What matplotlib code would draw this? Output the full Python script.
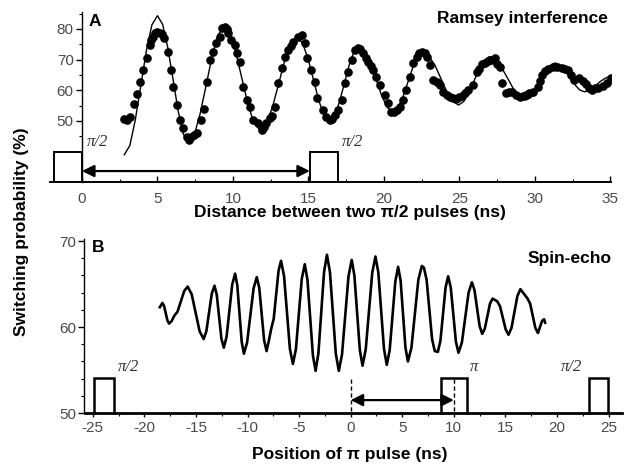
import matplotlib
matplotlib.use("Agg")
import matplotlib.pyplot as plt
from matplotlib.ticker import MultipleLocator, FixedLocator

plt.rcParams["axes.unicode_minus"] = False

# ---------------- Panel A data (Ramsey interference) ----------------
ramsey_t = [2.8, 3.0, 3.2, 3.45, 3.65, 3.85, 4.05, 4.3, 4.5, 4.6, 4.7, 4.85, 5.0, 5.15, 5.3, 5.45,
            5.7, 5.9, 6.05, 6.3, 6.5, 6.7, 6.95, 7.1, 7.25, 7.4, 7.6, 7.9, 8.1, 8.25, 8.5, 8.7,
            8.9, 9.15, 9.3, 9.45, 9.6, 9.7, 9.9, 10.15, 10.3, 10.45, 10.7, 10.9, 11.1, 11.35, 11.65,
            11.9, 12.05, 12.2, 12.45, 12.6, 12.8, 13.0, 13.25, 13.45, 13.65, 13.85, 14.0, 14.3, 14.55,
            14.75, 14.9, 15.2, 15.45, 15.6, 15.95, 16.2, 16.4, 16.55, 16.75, 16.95, 17.2, 17.4, 17.6,
            17.9, 18.1, 18.3, 18.45, 18.6, 18.8, 18.95, 19.15, 19.3, 19.5, 19.75, 20.05, 20.3, 20.5,
            20.7, 20.9, 21.05, 21.3, 21.5, 21.7, 21.95, 22.2, 22.35, 22.5, 22.7, 22.85, 23.05, 23.25,
            23.5, 23.7, 23.9, 24.2, 24.4, 24.6, 24.8, 25.0, 25.2, 25.4, 25.6, 25.9, 26.15, 26.3, 26.5,
            26.7, 26.9, 27.1, 27.35, 27.5, 27.7, 27.8, 28.1, 28.3, 28.5, 28.75, 29.0, 29.2, 29.4,
            29.65, 29.9, 30.2, 30.35, 30.5, 30.7, 30.9, 31.2, 31.5, 31.8, 32.0, 32.2, 32.4, 32.6,
            32.9, 33.2, 33.4, 33.6, 33.8, 34.0, 34.2, 34.5, 34.8, 35.05]
ramsey_p = [50.5, 50.3, 51.3, 55.5, 58.8, 62.7, 66.6, 70.5, 74.7, 76.5, 77.3, 78.6, 78.9, 78.8, 78.2, 77.0,
            72.5, 66.6, 61.0, 55.2, 50.3, 47.7, 44.8, 43.7, 44.8, 45.4, 46.0, 50.3, 54.0, 62.7, 70.0, 72.5,
            75.4, 77.3, 80.3, 80.6, 80.0, 78.6, 76.3, 74.7, 72.0, 69.2, 61.0, 56.8, 54.6, 50.3, 49.3,
            47.0, 48.0, 49.3, 51.0, 51.5, 54.6, 62.4, 67.3, 70.8, 73.0, 74.5, 75.7, 77.3, 78.0,
            75.4, 70.5, 66.6, 62.7, 57.5, 53.6, 51.3, 50.3, 50.8, 52.0, 53.6, 56.8, 62.4, 66.0,
            69.9, 73.0, 73.8, 73.5, 72.0, 70.5, 69.2, 68.0, 66.6, 64.3, 61.7, 58.5, 55.9, 53.0,
            53.0, 53.5, 54.6, 56.8, 60.0, 64.3, 68.9, 70.8, 72.0, 72.5, 72.0, 70.8, 68.2, 63.4,
            62.7, 61.7, 59.4, 58.6, 57.8, 57.5, 57.3, 57.8, 58.3, 59.0, 60.0, 61.7, 66.0, 66.8, 68.5,
            69.0, 69.5, 70.0, 70.5, 68.5, 67.6, 62.5, 59.0, 59.5, 59.4, 58.5, 57.8, 58.2, 58.5,
            59.0, 59.4, 61.0, 63.0, 65.0, 66.3, 66.8, 67.6, 67.6, 67.3, 67.0, 66.6, 65.0, 63.4,
            64.0, 63.0, 62.0, 60.7, 60.0, 60.8, 60.7, 61.5, 62.4, 64.0]

fit_t = [2.8, 3.17, 3.53, 3.9, 4.27, 4.63, 5.0, 5.34, 5.68, 6.03, 6.37, 6.71, 7.05,
         7.44, 7.83, 8.23, 8.62, 9.01, 9.4, 9.8, 10.2, 10.6, 11.0, 11.4, 11.8,
         12.21, 12.62, 13.03, 13.43, 13.84, 14.25, 14.61, 14.97, 15.33, 15.68, 16.04, 16.4,
         16.73, 17.05, 17.38, 17.7, 18.03, 18.35, 18.73, 19.1, 19.48, 19.85, 20.23, 20.6,
         20.93, 21.27, 21.6, 21.93, 22.27, 22.6, 22.99, 23.38, 23.78, 24.17, 24.56, 24.95,
         25.29, 25.63, 25.98, 26.32, 26.66, 27.0, 27.4, 27.8, 28.2, 28.6, 29.0, 29.4,
         29.73, 30.05, 30.38, 30.7, 31.03, 31.35, 31.68, 32.0, 32.33, 32.65, 32.98, 33.3,
         33.65, 34.0, 34.35, 34.7, 35.0]
fit_p = [39.0, 42.0, 50.3, 61.65, 73.0, 81.3, 84.3, 81.5, 74.0, 63.65, 53.3, 45.8, 43.0,
         45.5, 52.4, 61.75, 71.1, 78.0, 80.5, 78.3, 72.1, 63.75, 55.4, 49.2, 47.0,
         49.0, 54.55, 62.1, 69.65, 75.2, 77.2, 75.4, 70.4, 63.6, 56.8, 51.8, 50.0,
         51.6, 56.1, 62.15, 68.2, 72.7, 74.3, 72.9, 69.0, 63.65, 58.3, 54.4, 53.0,
         54.3, 57.9, 62.75, 67.6, 71.2, 72.5, 71.0, 68.2, 63.85, 59.5, 56.4, 55.2,
         56.35, 59.15, 63.1, 67.05, 69.85, 71.0, 70.15, 67.45, 63.9, 60.35, 57.65, 56.8,
         57.6, 59.8, 62.85, 65.9, 68.1, 68.9, 68.3, 66.55, 64.2, 61.85, 60.1, 59.5,
         60.1, 61.4, 62.9, 64.0, 64.6]

ramsey_pulse_start = [-1.85, 15.1]
ramsey_pulse_end = [0.0, 16.95]
ramsey_pulse_labels = ["π/2", "π/2"]

# ---------------- Panel B data (Spin-echo) ----------------
echo_t = [-18.5, -18.25, -18.09, -17.93, -17.76, -17.6, -17.35, -17.1, -16.78, -16.45, -16.13, -15.8,
          -15.41, -15.03, -14.64, -14.25, -13.99, -13.73, -13.46, -13.2, -12.98, -12.75, -12.53, -12.3,
          -12.03, -11.75, -11.48, -11.2, -10.99, -10.78, -10.56, -10.35, -10.04, -9.73, -9.41, -9.1,
          -8.86, -8.63, -8.39, -8.15, -7.95, -7.7, -7.46, -7.23, -6.99, -6.75, -6.46, -6.18, -5.89, -5.6,
          -5.31, -5.03, -4.74, -4.45, -4.19, -3.93, -3.66, -3.4, -3.13, -2.85, -2.58, -2.3,
          -2.01, -1.73, -1.44, -1.15, -0.84, -0.53, -0.21, 0.1, 0.36, 0.63, 0.89, 1.15,
          1.46, 1.78, 2.09, 2.4, 2.68, 2.95, 3.23, 3.5, 3.78, 4.05, 4.33, 4.6,
          4.84, 5.08, 5.31, 5.55, 5.89, 6.23, 6.56, 6.9, 7.1, 7.36, 7.63, 7.89, 8.15, 8.45,
          8.7, 8.95, 9.2, 9.45, 9.7, 9.95, 10.2, 10.45, 10.78, 11.1, 11.43, 11.75,
          12.0, 12.25, 12.5, 12.75, 13.0, 13.25, 13.5, 13.75, 14.2, 14.48, 14.75, 15.03, 15.3,
          15.59, 15.88, 16.16, 16.45, 16.9, 17.15, 17.4, 17.65, 17.9, 18.15, 18.55, 18.75, 18.85]
echo_p = [62.3, 62.8, 62.45, 61.6, 60.75, 60.4, 60.7, 61.3, 61.8, 63.0, 64.2, 64.7,
          63.8, 61.65, 59.5, 58.6, 59.5, 61.7, 63.9, 64.8, 63.75, 61.2, 58.65, 57.6,
          58.85, 61.9, 64.95, 66.2, 64.85, 61.55, 58.25, 56.9, 58.2, 61.35, 64.5, 65.8,
          64.55, 61.5, 58.45, 57.2, 58.3, 59.8, 60.95, 63.75, 66.55, 67.7, 65.95, 61.7, 57.45, 55.7,
          57.4, 61.5, 65.6, 67.3, 65.5, 61.1, 56.7, 54.9, 56.9, 61.65, 66.4, 68.4,
          66.4, 61.65, 56.9, 54.9, 56.8, 61.35, 65.9, 67.8, 66.0, 61.65, 57.3, 55.5,
          57.4, 61.85, 66.3, 68.2, 66.35, 61.9, 57.45, 55.6, 57.3, 61.3, 65.3, 67.0,
          65.4, 61.5, 57.6, 56.0, 57.6, 61.55, 65.5, 67.1, 66.9, 65.5, 62.05, 58.6, 57.2, 57.1,
          58.4, 61.5, 64.6, 65.9, 64.6, 61.45, 58.3, 57.0, 58.2, 61.1, 64.0, 65.2,
          64.3, 62.2, 60.1, 59.2, 59.8, 61.25, 62.7, 63.3, 63.0, 62.4, 61.05, 59.7, 59.1,
          59.9, 61.75, 63.6, 64.4, 63.7, 63.3, 62.7, 61.3, 59.9, 59.3, 60.7, 60.9, 60.5]

echo_pulse_start = [-24.85, 8.8, 23.1]
echo_pulse_end = [-22.9, 11.25, 24.95]
echo_pulse_labels = ["π/2", "π", "π/2"]

# ---------------- Figure ----------------
W, H = 625, 466
fig = plt.figure(figsize=(W / 100, H / 100), dpi=100)
fig.patch.set_facecolor("white")

SANS = ["Liberation Sans", "DejaVu Sans"]
SERIF = ["Liberation Serif", "DejaVu Serif"]
TICKC = "#4a4a4a"

# ---- Panel A ----
axA = fig.add_axes([50.3 / W, 1 - 182.4 / H, (611 - 50.3) / W, (182.4 - 12) / H])
axA.set_xlim(-2.1, 35.05)
axA.set_ylim(30, 85.5)
for s in ("top", "right"):
    axA.spines[s].set_visible(False)
axA.spines["left"].set_position(("data", 0))
axA.spines["left"].set_linewidth(1.0)
axA.spines["bottom"].set_linewidth(1.4)

axA.plot(fit_t, fit_p, color="black", lw=1.0, zorder=3)
axA.plot(ramsey_t, ramsey_p, "o", color="black", ms=5.2, mec="black", zorder=4)

pulse_hA = 40.0
for s, e, lab in zip(ramsey_pulse_start, ramsey_pulse_end, ramsey_pulse_labels):
    axA.plot([s, s, e, e], [30, pulse_hA, pulse_hA, 30], color="black", lw=1.4,
             solid_joinstyle="miter", clip_on=False, zorder=5)
    axA.text(e + 0.3, pulse_hA + 0.5, lab, family=SERIF, style="italic", fontsize=12,
             color="#333333", ha="left", va="bottom")
axA.annotate("", xy=(ramsey_pulse_end[0], 33.7), xytext=(ramsey_pulse_start[1], 33.7),
             arrowprops=dict(arrowstyle="<|-|>", color="black", lw=1.6,
                             mutation_scale=18, shrinkA=0, shrinkB=0))

axA.xaxis.set_major_locator(MultipleLocator(5))
axA.xaxis.set_minor_locator(MultipleLocator(2.5))
axA.yaxis.set_major_locator(FixedLocator([50, 60, 70, 80]))
axA.yaxis.set_minor_locator(FixedLocator([45, 55, 65, 75, 85]))
axA.tick_params(axis="x", which="major", direction="in", length=4, width=1,
                labelsize=11, labelcolor=TICKC, pad=7)
axA.tick_params(axis="x", which="minor", direction="in", length=2.5, width=0.8)
axA.tick_params(axis="y", which="major", direction="out", length=4, width=1,
                labelsize=11, labelcolor=TICKC, pad=2)
axA.tick_params(axis="y", which="minor", direction="out", length=2.5, width=0.8)
for lab in axA.get_xticklabels() + axA.get_yticklabels():
    lab.set_family(SANS)

# ---- Panel B ----
axB = fig.add_axes([84.5 / W, 1 - 413 / H, (622 - 84.5) / W, (413 - 239.3) / H])
axB.set_xlim(-25.8, 26.3)
axB.set_ylim(50, 70.2)
for s in ("top", "right"):
    axB.spines[s].set_visible(False)
axB.spines["left"].set_linewidth(1.0)
axB.spines["bottom"].set_linewidth(2.0)

axB.plot(echo_t, echo_p, color="black", lw=1.9, zorder=3, solid_joinstyle="round")

pulse_hB = 54.1
for s, e, lab in zip(echo_pulse_start, echo_pulse_end, echo_pulse_labels):
    axB.plot([s, s, e, e], [50, pulse_hB, pulse_hB, 50], color="black", lw=1.8,
             solid_joinstyle="miter", clip_on=False, zorder=5)
labB_x = [-22.6, 11.6, 20.4]
for x, lab in zip(labB_x, echo_pulse_labels):
    axB.text(x, pulse_hB + 0.3, lab, family=SERIF, style="italic", fontsize=12,
             color="#333333", ha="left", va="bottom")

echo_markers = [0.0, 10.0]
for x in echo_markers:
    axB.plot([x, x], [50.2, 54.2], color="black", lw=1.0, ls=(0, (3, 2)), zorder=4)
axB.annotate("", xy=(echo_markers[0], 51.5), xytext=(echo_markers[1], 51.5),
             arrowprops=dict(arrowstyle="<|-|>", color="black", lw=1.6,
                             mutation_scale=18, shrinkA=0, shrinkB=0))

axB.xaxis.set_major_locator(MultipleLocator(5))
axB.xaxis.set_minor_locator(MultipleLocator(2.5))
axB.yaxis.set_major_locator(FixedLocator([50, 60, 70]))
axB.yaxis.set_minor_locator(MultipleLocator(2))
axB.tick_params(axis="x", which="major", direction="out", length=3, width=1,
                labelsize=11, labelcolor=TICKC, pad=3)
axB.tick_params(axis="x", which="minor", direction="out", length=2, width=0.8)
axB.tick_params(axis="y", which="major", direction="out", length=4, width=1,
                labelsize=11, labelcolor=TICKC, pad=2)
axB.tick_params(axis="y", which="minor", direction="out", length=2.5, width=0.8)
for lab in axB.get_xticklabels() + axB.get_yticklabels():
    lab.set_family(SANS)

# ---- Texts ----
fig.text(22 / W, 1 - 232 / H, "Switching probability (%)", rotation=90, ha="center", va="center",
         fontsize=12.5, fontweight="bold", family=SANS)
fig.text(350 / W, 1 - 213 / H, "Distance between two π/2 pulses (ns)", ha="center", va="center",
         fontsize=12.5, fontweight="bold", family=SANS)
fig.text(350 / W, 1 - 454 / H, "Position of π pulse (ns)", ha="center", va="center",
         fontsize=12.5, fontweight="bold", family=SANS)
fig.text(608 / W, 1 - 18 / H, "Ramsey interference", ha="right", va="center",
         fontsize=12.5, fontweight="bold", family=SANS)
fig.text(612 / W, 1 - 258 / H, "Spin-echo", ha="right", va="center",
         fontsize=12.5, fontweight="bold", family=SANS)
fig.text(95 / W, 1 - 21 / H, "A", ha="center", va="center",
         fontsize=12.5, fontweight="bold", family=SANS)
fig.text(98 / W, 1 - 247 / H, "B", ha="center", va="center",
         fontsize=12.5, fontweight="bold", family=SANS)

fig.savefig("out.png", dpi=100, facecolor="white")
